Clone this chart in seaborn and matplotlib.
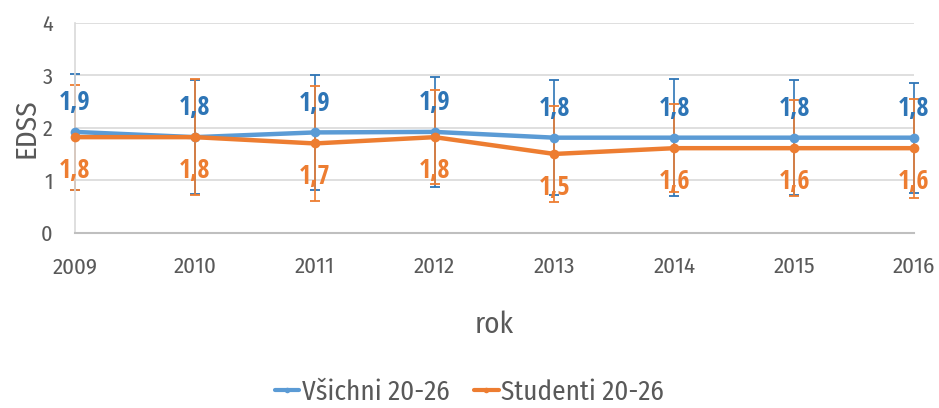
import numpy as np
import pandas as pd
import matplotlib
matplotlib.use("Agg")
import matplotlib.pyplot as plt
import seaborn as sns

years = [2009, 2010, 2011, 2012, 2013, 2014, 2015, 2016]
vsichni = [1.92, 1.82, 1.91, 1.92, 1.81, 1.81, 1.81, 1.81]
studenti = [1.82, 1.82, 1.70, 1.82, 1.50, 1.61, 1.61, 1.61]
vsichni_sd = [1.10, 1.08, 1.09, 1.05, 1.09, 1.12, 1.09, 1.05]
studenti_sd = [1.00, 1.11, 1.09, 0.90, 0.91, 0.84, 0.92, 0.94]
series_names = ["Všichni 20-26", "Studenti 20-26"]
y_ticks = [0, 1, 2, 3, 4]

line_colors = ["#5B9BD5", "#ED7D31"]
label_colors = ["#2E75B6", "#ED7D31"]
err_colors = ["#2E75B6", "#ED7D31"]
text_gray = "#595959"

sns.set_style("white")
plt.rcParams["font.family"] = ["Fira Sans Condensed", "Carlito", "DejaVu Sans"]
label_font = ["Open Sans Condensed", "Fira Sans Condensed", "DejaVu Sans"]

df = pd.DataFrame({
    "rok": years * 2,
    "EDSS": vsichni + studenti,
    "skupina": [series_names[0]] * len(years) + [series_names[1]] * len(years),
})

fig = plt.figure(figsize=(9.39, 4.08), dpi=100)
ax = fig.add_axes([75 / 939, 1 - 232.7 / 408, (914 - 75) / 939, (232.7 - 22.7) / 408])

# error bars first so lines sit on top
for vals, sd, c in zip([vsichni, studenti], [vsichni_sd, studenti_sd], err_colors):
    ax.errorbar(years, vals, yerr=sd, fmt="none", ecolor=c, elinewidth=1.2,
                capsize=3.5, capthick=1.3, zorder=2, clip_on=False)

sns.lineplot(data=df, x="rok", y="EDSS", hue="skupina", palette=line_colors,
             marker="o", markersize=7, markeredgewidth=0, linewidth=3.2,
             ax=ax, legend=True, zorder=3, clip_on=False)

# data labels
for vals, c, off in zip([vsichni, studenti], label_colors, [21, -24]):
    for x, v in zip(years, vals):
        ax.annotate(f"{v:.1f}".replace(".", ","), (x, v), xytext=(0, off),
                    textcoords="offset points", ha="center", va="center",
                    fontsize=19, fontweight="bold", color=c, zorder=4,
                    family=label_font)

ax.set_xlim(2009, 2016)
ax.set_ylim(0, 4)
ax.set_xticks(years)
ax.set_xticklabels([str(y) for y in years])
ax.set_yticks(y_ticks)
ax.grid(axis="y", color="#D9D9D9", linewidth=1.2)
ax.grid(axis="x", visible=False)
ax.tick_params(axis="x", length=0, pad=17, labelsize=16.5, labelcolor=text_gray)
ax.tick_params(axis="y", length=0, pad=16, labelsize=16, labelcolor=text_gray)
for s in ["top", "right"]:
    ax.spines[s].set_visible(False)
ax.spines["left"].set_color("#D9D9D9")
ax.spines["left"].set_linewidth(1.2)
ax.spines["bottom"].set_color("#BFBFBF")
ax.spines["bottom"].set_linewidth(1.5)

ax.set_xlabel("rok", fontsize=21, color=text_gray)
ax.set_ylabel("EDSS", fontsize=21, color=text_gray)
ax.xaxis.label.set_va("center")
ax.yaxis.label.set_va("center")
ax.xaxis.set_label_coords(0.5, (232.7 - 325) / 210)
ax.yaxis.set_label_coords((26 - 75) / 839, 0.5)

handles, labels = ax.get_legend_handles_labels()
ax.get_legend().remove()
for h in handles:
    h.set_markersize(4)
    h.set_linewidth(3)
fig.legend(handles, labels, loc="center", bbox_to_anchor=(0.5, 1 - 392 / 408),
           ncol=2, frameon=False, fontsize=19.5, handlelength=0.9, handletextpad=0.1,
           columnspacing=0.9, labelcolor=text_gray)

fig.savefig("out.png", dpi=100)
